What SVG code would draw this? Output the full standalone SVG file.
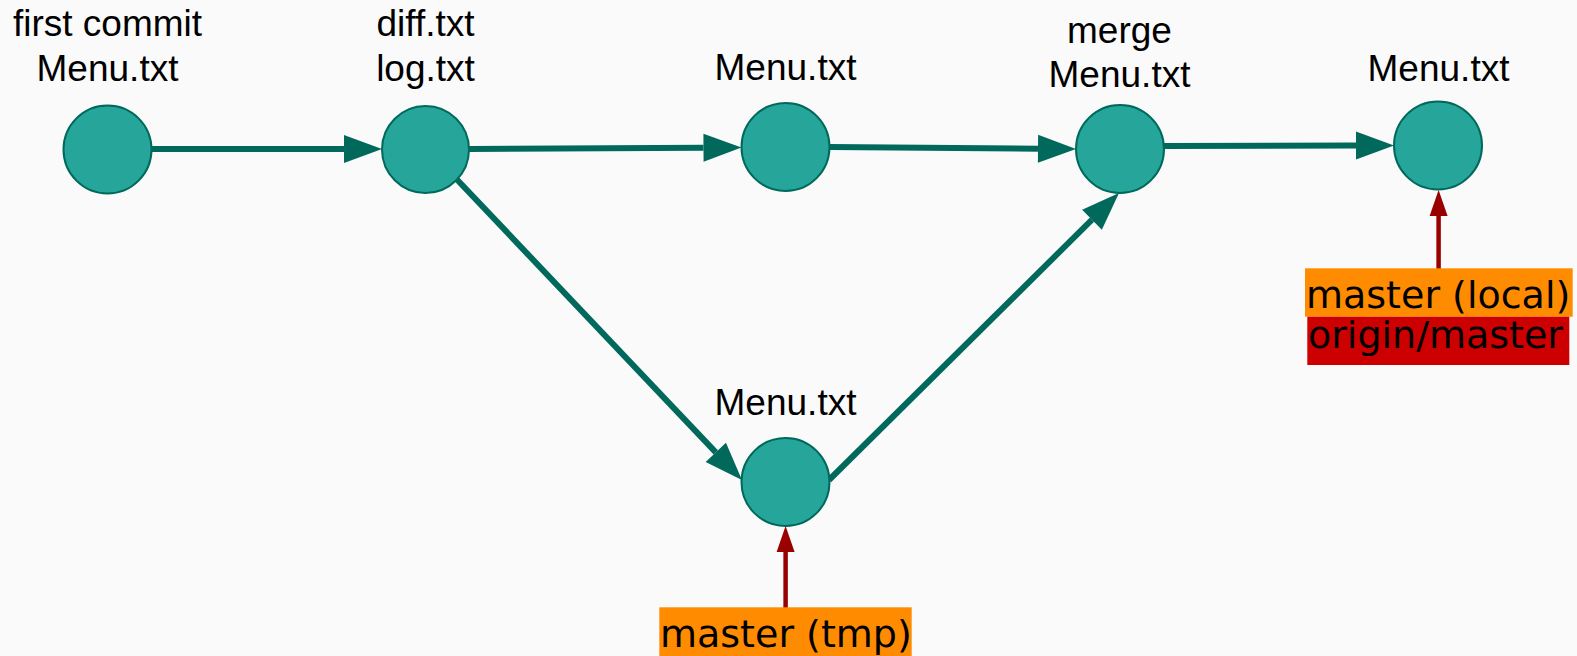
<svg xmlns="http://www.w3.org/2000/svg" width="1577" height="656" viewBox="0 0 1577 656">
<style>
.node circle{fill:#26a69a;stroke:#00695c;stroke-width:2}
.lbl{font-family:"Liberation Sans",Arial,sans-serif;font-size:37px;fill:#000;text-anchor:middle}
.edge{stroke:#00695c;stroke-width:6;fill:none}
.ref{stroke:#990000;stroke-width:4.5;fill:none}
.br{font-family:"DejaVu Sans",Verdana,sans-serif;font-size:38px;fill:#000}
</style>
<defs>
<marker id="ah" markerUnits="userSpaceOnUse" markerWidth="38" markerHeight="28" refX="0" refY="14" orient="auto" overflow="visible">
<path d="M0,0 L38,14 L0,28 z" fill="#00695c"/>
</marker>
<marker id="rh" markerUnits="userSpaceOnUse" markerWidth="26" markerHeight="18" refX="0" refY="9" orient="auto" overflow="visible">
<path d="M0,0 L26,9 L0,18 z" fill="#990000"/>
</marker>
</defs>
<rect width="1577" height="656" fill="#fafafa"/>
<g id="connectors">
<line class="edge" x1="152" y1="149" x2="344" y2="149" marker-end="url(#ah)"/>
<line class="edge" x1="469" y1="149" x2="703.5" y2="147.7" marker-end="url(#ah)"/>
<line class="edge" x1="829.5" y1="147" x2="1038" y2="148.7" marker-end="url(#ah)"/>
<line class="edge" x1="1164" y1="146" x2="1356" y2="145.6" marker-end="url(#ah)"/>
<line class="edge" x1="456.7" y1="179.3" x2="715.8" y2="452.4" marker-end="url(#ah)"/>
<line class="edge" x1="829" y1="480" x2="1092" y2="219.7" marker-end="url(#ah)"/>
<line class="ref" x1="1438.6" y1="273" x2="1438.6" y2="216" marker-end="url(#rh)"/>
<line class="ref" x1="785.6" y1="612.7" x2="785.6" y2="552" marker-end="url(#rh)"/>
</g>
<g id="n1" class="node">
<circle cx="107.5" cy="149.5" r="44"/>
<text class="lbl" x="107.5" y="36">first commit</text>
<text class="lbl" x="107.5" y="81">Menu.txt</text>
</g>
<g id="n2" class="node">
<circle cx="425.5" cy="149.5" r="43.5"/>
<text class="lbl" x="425.5" y="36">diff.txt</text>
<text class="lbl" x="425.5" y="81">log.txt</text>
</g>
<g id="n3" class="node">
<circle cx="785.5" cy="147" r="44"/>
<text class="lbl" x="785.5" y="80">Menu.txt</text>
</g>
<g id="n4" class="node">
<circle cx="1120" cy="149" r="44"/>
<text class="lbl" x="1119.5" y="42.5">merge</text>
<text class="lbl" x="1119.5" y="87">Menu.txt</text>
</g>
<g id="n5" class="node">
<circle cx="1438" cy="145.5" r="44"/>
<text class="lbl" x="1438.5" y="81">Menu.txt</text>
</g>
<g id="n6" class="node">
<circle cx="785.5" cy="482" r="44"/>
<text class="lbl" x="785.5" y="415">Menu.txt</text>
</g>
<g id="b-local">
<rect x="1305" y="268.3" width="267.7" height="48.4" fill="#ff8c00"/>
<text class="br" x="1306" y="308.3">master (local)</text>
</g>
<g id="b-origin">
<rect x="1307.3" y="316.7" width="262" height="48.3" fill="#cc0000"/>
<text class="br" x="1308" y="348.3">origin/master</text>
</g>
<g id="b-tmp">
<rect x="659.3" y="607.3" width="252.4" height="49" fill="#ff8c00"/>
<text class="br" x="660" y="646.7">master (tmp)</text>
</g>
</svg>
